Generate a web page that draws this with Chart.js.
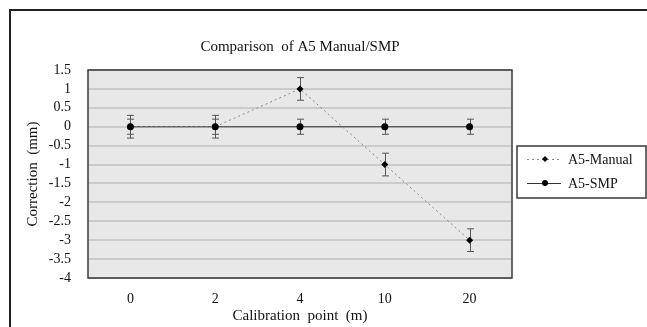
<!DOCTYPE html>
<html>
<head>
<meta charset="utf-8">
<script src="https://cdn.jsdelivr.net/npm/chart.js@4"></script>
<style>
  html, body { margin: 0; padding: 0; background: #fff; }
  body { width: 647px; height: 327px; position: relative; overflow: hidden; }
  #frame {
    position: absolute; left: 9px; top: 9px; right: -5px; bottom: -5px;
    border-left: 2px solid #222; border-top: 2px solid #222;
  }
  #wrap { position: absolute; left: 0; top: 0; width: 647px; height: 327px; }
</style>
</head>
<body>
<div id="frame"></div>
<div id="wrap"><canvas id="myChart" width="647" height="327"></canvas></div>
<script>
// data
const categories = ["0", "2", "4", "10", "20"];
const manualValues = [0, 0, 1, -1, -3];
const manualErrors = [0.3, 0.3, 0.3, 0.3, 0.3];
const smpValues = [0, 0, 0, 0, 0];
const smpErrors = [0.2, 0.2, 0.2, 0.2, 0.2];
const yMin = -4;
const yMax = 1.5;
const yStep = 0.5;

const serif = "'Liberation Serif', 'Times New Roman', serif";

// plot background + frame
const plotBg = {
  id: "plotBg",
  beforeDraw(chart) {
    const { ctx, chartArea: a } = chart;
    ctx.save();
    ctx.fillStyle = "#e8e8e8";
    ctx.fillRect(a.left, a.top, a.right - a.left, a.bottom - a.top);
    ctx.restore();
  },
  afterDraw(chart) {
    const { ctx, chartArea: a } = chart;
    ctx.save();
    ctx.strokeStyle = "#3a3a3a";
    ctx.lineWidth = 1.5;
    ctx.strokeRect(a.left, a.top, a.right - a.left, a.bottom - a.top);
    ctx.restore();
  },
};

// error bars drawn through the scales
const errorBars = {
  id: "errorBars",
  beforeDatasetsDraw(chart) {
    const { ctx } = chart;
    const yScale = chart.scales.y;
    const errs = [manualErrors, smpErrors];
    ctx.save();
    ctx.strokeStyle = "#555";
    ctx.lineWidth = 1;
    chart.data.datasets.forEach((ds, di) => {
      const meta = chart.getDatasetMeta(di);
      meta.data.forEach((pt, i) => {
        const v = ds.data[i];
        const e = errs[di][i];
        const x = Math.round(pt.x) + 0.5;
        const y1 = yScale.getPixelForValue(v + e);
        const y2 = yScale.getPixelForValue(v - e);
        ctx.beginPath();
        ctx.moveTo(x, y1);
        ctx.lineTo(x, y2);
        ctx.moveTo(x - 3.5, y1);
        ctx.lineTo(x + 3.5, y1);
        ctx.moveTo(x - 3.5, y2);
        ctx.lineTo(x + 3.5, y2);
        ctx.stroke();
      });
    });
    ctx.restore();
  },
};

// legend box on the right
const sideLegend = {
  id: "sideLegend",
  afterDraw(chart) {
    const { ctx } = chart;
    ctx.save();
    ctx.strokeStyle = "#3a3a3a";
    ctx.lineWidth = 1.5;
    ctx.strokeRect(517, 146, 129, 52);
    chart.data.datasets.forEach((ds, i) => {
      const y = 159 + i * 24;
      ctx.strokeStyle = ds.borderColor;
      ctx.lineWidth = 1;
      ctx.setLineDash(ds.borderDash || []);
      ctx.beginPath();
      ctx.moveTo(527, y + 0.5);
      ctx.lineTo(561, y + 0.5);
      ctx.stroke();
      ctx.setLineDash([]);
      ctx.fillStyle = "#000";
      ctx.beginPath();
      if (ds.pointStyle === "rectRot") {
        const r = 3;
        ctx.moveTo(545, y - r);
        ctx.lineTo(545 + r, y);
        ctx.lineTo(545, y + r);
        ctx.lineTo(545 - r, y);
        ctx.closePath();
      } else {
        ctx.arc(545, y, 3, 0, Math.PI * 2);
      }
      ctx.fill();
      ctx.fillStyle = "#111";
      ctx.font = "14px " + serif;
      ctx.textBaseline = "middle";
      ctx.fillText(ds.label, 568, y + 1);
    });
    ctx.restore();
  },
};

const ctx = document.getElementById("myChart").getContext("2d");

const myChart = new Chart(ctx, {
  type: "line",
  data: {
    labels: categories,
    datasets: [
      {
        label: "A5-Manual",
        data: manualValues,
        borderColor: "#8a8a8a",
        borderWidth: 1,
        borderDash: [2, 3],
        pointStyle: "rectRot",
        pointRadius: 3.5,
        pointBackgroundColor: "#000",
        pointBorderColor: "#000",
        pointBorderWidth: 0,
        tension: 0,
      },
      {
        label: "A5-SMP",
        data: smpValues,
        borderColor: "#333",
        borderWidth: 1.2,
        pointStyle: "circle",
        pointRadius: 3.5,
        pointBackgroundColor: "#000",
        pointBorderColor: "#000",
        pointBorderWidth: 0,
        tension: 0,
      },
    ],
  },
  options: {
    responsive: false,
    animation: false,
    layout: { padding: { left: 0, right: 135, top: 0, bottom: 0 } },
    plugins: {
      legend: { display: false },
      tooltip: { enabled: false },
      title: {
        display: true,
        text: "Comparison  of A5 Manual/SMP",
        color: "#111",
        fullSize: false,
        font: { family: serif, size: 15, weight: "normal" },
        padding: { top: 38, bottom: 14 },
      },
    },
    scales: {
      x: {
        offset: true,
        grid: { display: false, drawTicks: false },
        border: { display: false },
        ticks: { color: "#111", padding: 13, font: { family: serif, size: 14 } },
        title: {
          display: true,
          text: "Calibration  point  (m)",
          color: "#111",
          font: { family: serif, size: 15 },
          padding: { top: 0, bottom: 2 },
        },
        afterFit(s) { s.height = 49; },
      },
      y: {
        min: yMin,
        max: yMax,
        grid: { color: "#cbcbcb", lineWidth: 2, drawTicks: false },
        border: { display: false },
        ticks: {
          stepSize: yStep,
          autoSkip: false,
          color: "#111",
          padding: 17,
          font: { family: serif, size: 14 },
          callback: (v) => String(Math.round(v * 10) / 10),
        },
        title: {
          display: true,
          text: "Correction  (mm)",
          color: "#111",
          font: { family: serif, size: 15 },
          padding: { top: 24, bottom: 0 },
        },
        afterFit(s) { s.width = 88; },
      },
    },
  },
  plugins: [plotBg, errorBars, sideLegend],
});
</script>
</body>
</html>
